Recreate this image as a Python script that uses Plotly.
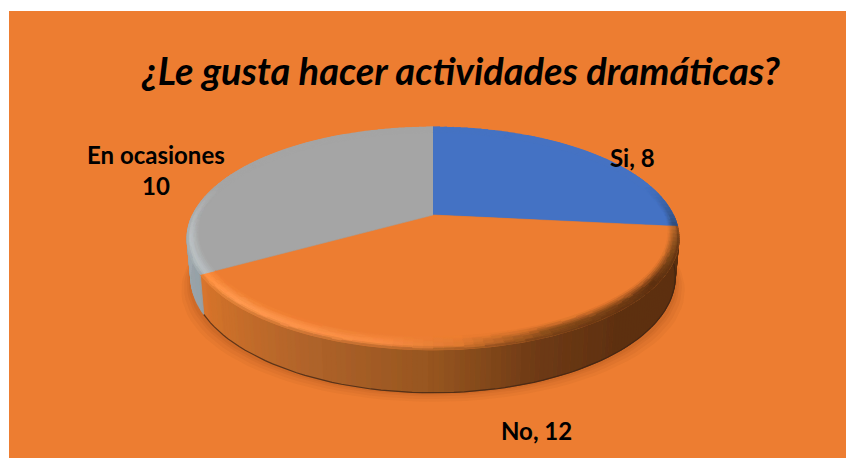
import math
import plotly.graph_objects as go

categories = ["Si", "No", "En ocasiones"]
values = [8, 12, 10]
title_text = "¿Le gusta hacer actividades dramáticas?"

face = {"Si": "#4472C4", "No": "#ED7D31", "En ocasiones": "#A5A5A5"}
BG = "#ED7D31"
CX, CY, RX, RY, K, DEPTH, TAPER = 433, 215, 240.5, 106.5, 0.21, 43, 0.985


def proj(deg, r=1.0, dz=0.0, s=1.0):
    a = math.radians(deg)
    u, v = r * math.sin(a), -r * math.cos(a)
    d = 1 - K * v
    return CX + RX * s * u / d, CY + RY * v / d + dz


def base_pt(deg):
    # lower rim of the disc: the wall looks slightly shorter away from the front
    v = -math.cos(math.radians(deg))
    return proj(deg, 1, DEPTH - 6 * (1 - v), TAPER)


def hex2(c):
    return tuple(int(c[i:i + 2], 16) for i in (1, 3, 5))


def mix(a, b, t):
    t = max(0, min(1, t))
    return tuple(a[i] + (b[i] - a[i]) * t for i in range(3))


def ramp(stops, x):
    if x <= stops[0][0]:
        return hex2(stops[0][1])
    for (x0, c0), (x1, c1) in zip(stops, stops[1:]):
        if x <= x1:
            return mix(hex2(c0), hex2(c1), (x - x0) / (x1 - x0))
    return hex2(stops[-1][1])


def css(c):
    q = [min(255, round(v / 3) * 3) for v in c]
    return f"rgb({q[0]},{q[1]},{q[2]})"


wall_stops = {
    "No": [(96, "#5A2E10"), (140, "#5E3010"), (160, "#6E3A15"), (180, "#96551F"),
           (205, "#B0632A"), (225, "#C86E2A"), (240, "#DA752C")],
    "En ocasiones": [(240, "#95A0A6"), (270, "#A3ACB0"), (360, "#A5A5A5")],
    "Si": [(0, "#2F4F88"), (96, "#2A4470")],
}
rim_stops = {
    "No": [(96, "#B0652A"), (110, "#7A4518"), (125, "#5E3010"), (155, "#824818"), (175, "#E07A30"),
           (190, "#F98C42"), (225, "#FF9A50"), (240, "#FF9040")],
    "En ocasiones": [(240, "#B8BEC0"), (275, "#BCC2C4"), (310, "#AEB0B1"), (360, "#A5A5A5")],
    "Si": [(0, "#4472C4"), (60, "#416DBC"), (85, "#30507F"), (96, "#2C4468")],
}

fig = go.Figure()
fig.add_shape(type="rect", x0=9, y0=11, x1=846, y1=458, fillcolor=BG, line_width=0, layer="below")

# soft shadow under the disc
for grow, alpha in [(10, 0.05), (7, 0.06), (4, 0.07), (2, 0.08)]:
    pts = [proj(d, 1.0, DEPTH + grow * 0.9, TAPER + grow / 260) for d in range(0, 361, 3)]
    fig.add_trace(go.Scatter(x=[p[0] for p in pts], y=[p[1] for p in pts], mode="lines",
                             fill="toself", fillcolor=f"rgba(120,55,10,{alpha})",
                             line=dict(width=0), hoverinfo="skip"))

total = sum(values)
spans, start = [], 0.0
for cat, val in zip(categories, values):
    end = start + 360.0 * val / total
    spans.append((cat, start, end))
    start = end

groups = {}


def add_poly(color, pts):
    xs, ys = groups.setdefault(color, ([], []))
    xs.extend([p[0] for p in pts] + [pts[0][0], None])
    ys.extend([p[1] for p in pts] + [pts[0][1], None])


def flush():
    for color, (xs, ys) in groups.items():
        fig.add_trace(go.Scatter(x=xs, y=ys, mode="lines", fill="toself", fillcolor=color,
                                 line=dict(width=0.8, color=color), hoverinfo="skip"))
    groups.clear()


# side wall (front half only)
for cat, a0, a1 in spans:
    n = max(1, int((a1 - a0) / 1.0))
    for i in range(n):
        d0 = a0 + (a1 - a0) * i / n
        d1 = a0 + (a1 - a0) * (i + 1) / n
        if d1 <= 90 or d0 >= 270:
            continue
        col = css(ramp(wall_stops[cat], (d0 + d1) / 2))
        add_poly(col, [proj(d0), proj(d1), base_pt(d1), base_pt(d0)])
flush()

# thin dark foot of the wall
foot = [base_pt(d) for d in range(96, 241, 2)]
fig.add_trace(go.Scatter(x=[p[0] for p in foot], y=[p[1] for p in foot], mode="lines",
                         line=dict(color="rgba(60,35,20,0.75)", width=1.2), hoverinfo="skip"))

# top face wedges
for cat, a0, a1 in spans:
    n = int(a1 - a0)
    pts = [(CX, CY)] + [proj(a0 + (a1 - a0) * i / n) for i in range(n + 1)]
    fig.add_trace(go.Scatter(x=[p[0] for p in pts], y=[p[1] for p in pts], mode="lines",
                             fill="toself", fillcolor=face[cat],
                             line=dict(width=0.6, color=face[cat]), hoverinfo="skip"))

# bevel around the rim of the top face: about constant on screen, so narrower in r at the sides
BANDS = 8
for cat, a0, a1 in spans:
    n = max(1, int((a1 - a0) / 2))
    base = hex2(face[cat])
    for i in range(n):
        d0 = a0 + (a1 - a0) * i / n
        d1 = a0 + (a1 - a0) * (i + 1) / n
        mid = (d0 + d1) / 2
        cosm = math.cos(math.radians(mid))
        width = 0.035 + 0.045 * abs(cosm)
        rim = ramp(rim_stops[cat], mid)
        wall = ramp(wall_stops[cat], mid)
        front = max(0.0, min(1.0, (0.30 - cosm) / 0.5))
        for b in range(BANDS):
            r0 = 1 - width + width * b / BANDS
            r1 = 1 - width + width * (b + 1) / BANDS
            t = (b + 0.5) / BANDS
            c = mix(base, rim, min(1, t / 0.6))
            if t > 0.75:
                c = mix(c, wall, (t - 0.75) / 0.25 * 0.8)
            c = mix(base, c, front)
            add_poly(css(c), [proj(d0, r0), proj(d1, r0), proj(d1, r1), proj(d0, r1)])
flush()

label_font = dict(family="Lato", size=24, color="#000000", weight=700)
label_text = {
    "Si": f"{categories[0]}, {values[0]}",
    "No": f"{categories[1]}, {values[1]}",
    "En ocasiones": f"{categories[2]}<br>{values[2]}",
}
label_pos = {"Si": (632, 157), "No": (536, 430), "En ocasiones": (156, 170)}
for cat in categories:
    x, y = label_pos[cat]
    fig.add_annotation(x=x, y=y, text=label_text[cat], showarrow=False, font=label_font,
                       xanchor="center", yanchor="middle", align="center")
fig.add_annotation(x=461, y=70, text=title_text, showarrow=False, xanchor="center", yanchor="middle",
                   font=dict(family="Lato", size=38, color="#000000", weight=700, style="italic"))

fig.update_layout(
    width=846, height=458, margin=dict(l=0, r=0, t=0, b=0), showlegend=False,
    paper_bgcolor="#FFFFFF", plot_bgcolor="rgba(0,0,0,0)",
    xaxis=dict(range=[0, 846], visible=False, fixedrange=True),
    yaxis=dict(range=[458, 0], visible=False, fixedrange=True),
)
fig.write_html("out.html", config={"displayModeBar": False},
               post_script="document.body.style.margin='0';document.body.style.overflow='hidden';")
